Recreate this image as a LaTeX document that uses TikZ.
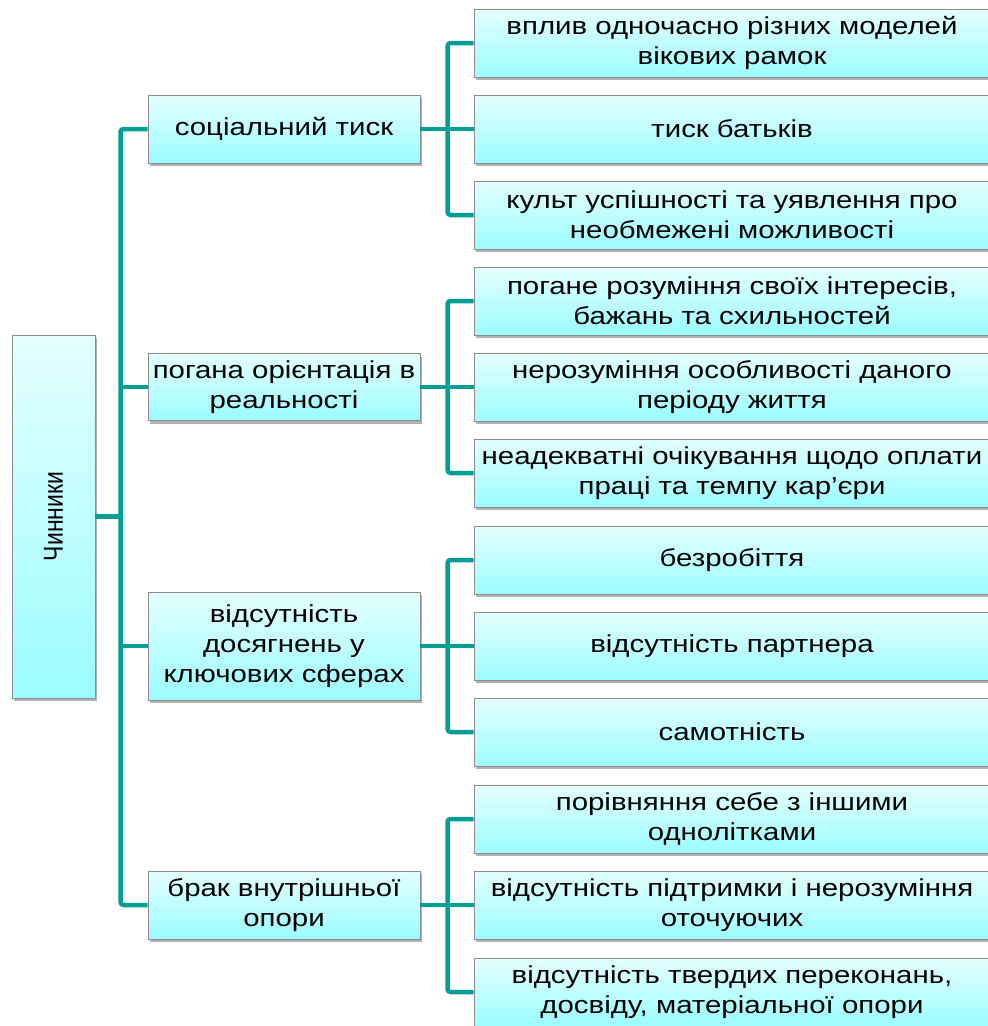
\documentclass[tikz,border=0pt]{standalone}
\usepackage{fontspec}
\setmainfont[FakeStretch=1.2]{Liberation Sans}
\newfontfamily\rootfont{Liberation Sans}
\usetikzlibrary{shadows,calc}
\definecolor{boxtop}{RGB}{228,255,255}
\definecolor{boxbot}{RGB}{155,252,255}
\definecolor{boxline}{RGB}{140,140,140}
\definecolor{conncol}{RGB}{0,158,148}
\tikzset{
  box/.style={draw=boxline, line width=0.8pt, top color=boxtop, bottom color=boxbot,
    drop shadow={shadow xshift=2pt, shadow yshift=-3pt, fill=black, opacity=0.3},
    align=center, inner sep=2pt, font=\fontsize{24.5}{30}\selectfont},
  lvlone/.style={box, minimum width=272pt, minimum height=68pt},
  lvltwo/.style={box, minimum width=516pt, minimum height=68pt},
  conn/.style={draw=conncol, line width=4.5pt, rounded corners=3pt},
}
\begin{document}
\begin{tikzpicture}[x=1pt,y=-1pt]
\useasboundingbox (0,0) rectangle (988,1026);
% root
\node[box, minimum width=83pt, minimum height=363pt] (root) at (53.5,516.5) {};
\node[rotate=90, yscale=1.2, transform shape, font=\rootfont\fontsize{23}{28}\selectfont] (roottext) at (root.center) {Чинники};
% level 1
\node[lvlone] (s1) at (284,129) {соціальний тиск};
\node[lvlone, minimum height=67pt] (s2) at (284,387) {погана орієнтація в\\реальності};
\node[lvlone, minimum height=108pt] (s3) at (284,646) {відсутність\\досягнень у\\ключових сферах};
\node[lvlone] (s4) at (284,905) {брак внутрішньої\\опори};
% level 2
\node[lvltwo] (c1) at (732,43) {вплив одночасно різних моделей\\вікових рамок};
\node[lvltwo] (c2) at (732,129) {тиск батьків};
\node[lvltwo] (c3) at (732,215) {культ успішності та уявлення про\\необмежені можливості};
\node[lvltwo] (c4) at (732,301) {погане розуміння своїх інтересів,\\бажань та схильностей};
\node[lvltwo] (c5) at (732,387) {нерозуміння особливості даного\\періоду життя};
\node[lvltwo] (c6) at (732,473) {неадекватні очікування щодо оплати\\праці та темпу кар’єри};
\node[lvltwo] (c7) at (732,560) {безробіття};
\node[lvltwo] (c8) at (732,646) {відсутність партнера};
\node[lvltwo] (c9) at (732,732) {самотність};
\node[lvltwo] (c10) at (732,819) {порівняння себе з іншими\\однолітками};
\node[lvltwo] (c11) at (732,905) {відсутність підтримки і нерозуміння\\оточуючих};
\node[lvltwo] (c12) at (732,992) {відсутність твердих переконань,\\досвіду, матеріальної опори};
% connectors: trunk
\draw[conn] (root.east) -- ($(s1.west |- root.east)+(-25,0)$);
\draw[conn] (s1.west) -- ++(-27,0) |- (s4.west);
\draw[conn] (s2.west) -- ++(-27,0);
\draw[conn] (s3.west) -- ++(-27,0);
% branches
\foreach \p/\a/\b/\c in {s1/c1/c2/c3, s2/c4/c5/c6, s3/c7/c8/c9, s4/c10/c11/c12}{
  \draw[conn] (\p.east) -- (\p.east -| \b.west);
  \draw[conn] (\a.west) -- ++(-26,0) |- (\c.west);
  \draw[conn] (\b.west) -- ++(-26,0);
}
\end{tikzpicture}
\end{document}
